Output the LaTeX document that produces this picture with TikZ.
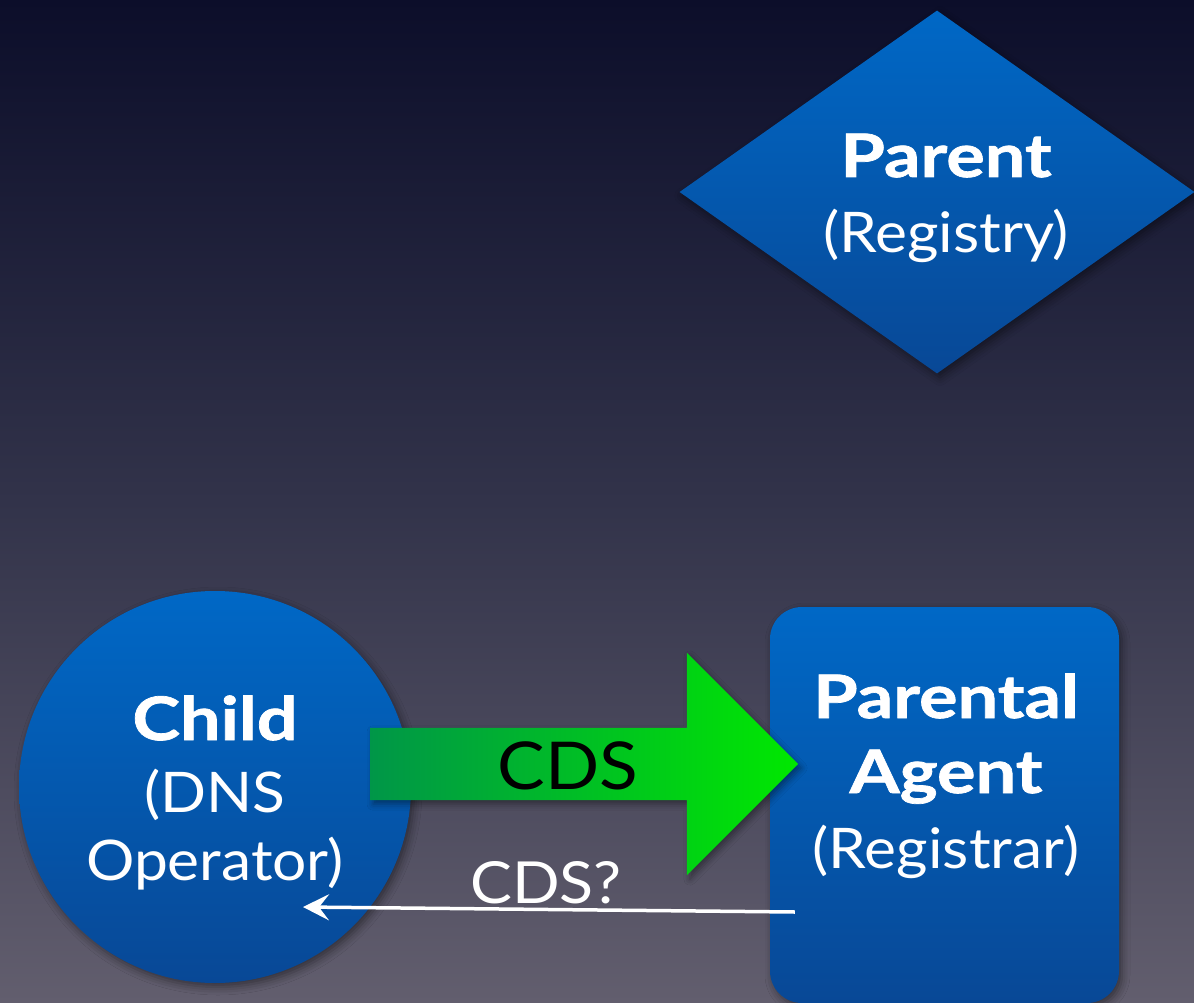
\documentclass[tikz,border=0pt]{standalone}
\usepackage{fontspec}
\setmainfont{Lato}
\newfontfamily\heavy[BoldFeatures={FakeStretch=1.2,FakeBold=1.2}]{Lato}
\newfontfamily\light[FakeStretch=1.08]{Lato}
\usetikzlibrary{shapes.geometric,shapes.arrows,shadows.blur,arrows.meta,calc}
\definecolor{bgtop}{RGB}{12,14,42}
\definecolor{bgmid}{RGB}{50,51,74}
\definecolor{bgbot}{RGB}{98,94,110}
\definecolor{bluetop}{RGB}{0,104,198}
\definecolor{bluebot}{RGB}{8,72,150}
\definecolor{gdark}{RGB}{0,150,72}
\definecolor{glight}{RGB}{0,232,0}
\tikzset{
  blueshape/.style={draw=none, top color=bluetop, bottom color=bluebot,
    blur shadow={shadow xshift=3pt, shadow yshift=-4pt, shadow blur radius=8pt, shadow opacity=45}},
  boldtxt/.style={text=white, font=\heavy\fontsize{60}{62}\selectfont\bfseries, anchor=base, inner sep=0pt},
  regtxt/.style={text=white, font=\light\fontsize{56}{60}\selectfont, anchor=base, inner sep=0pt},
}
\begin{document}
\begin{tikzpicture}[x=1pt,y=-1pt]
\shade[top color=bgtop, bottom color=bgbot, middle color=bgmid] (0,0) rectangle (1194,1003);
\useasboundingbox (0,0) rectangle (1194,1003);

% Parent diamond
\node[blueshape, diamond, aspect=1.42, minimum width=515pt, minimum height=363pt, inner sep=0pt] (parent) at (937,192) {};
\node[boldtxt] (parentA) at (946,177) {Parent};
\node[regtxt] (parentB) at (946,252) {(Registry)};

% Child circle
\node[blueshape, circle, minimum size=392pt, inner sep=0pt] (child) at (215,787) {};
\node[boldtxt] (childA) at (215,740) {Child};
\node[regtxt] (childB) at (215,812) {(DNS};
\node[regtxt] (childC) at (215,880) {Operator)};

% Parental agent rectangle
\node[blueshape, rectangle, rounded corners=32pt, minimum width=349pt, minimum height=396pt, inner sep=0pt] (agent) at (944.5,805) {};
\node[boldtxt] (agentA) at (946,718) {Parental};
\node[boldtxt] (agentB) at (946,793) {Agent};
\node[regtxt] (agentC) at (946,868) {(Registrar)};

% green CDS arrow
\node[single arrow, shape border rotate=0, single arrow head extend=75pt, single arrow head indent=0pt,
  minimum width=222pt, minimum height=428pt, inner sep=0pt, draw=none,
  left color=gdark, right color=glight,
  blur shadow={shadow xshift=3pt, shadow yshift=-4pt, shadow blur radius=6pt, shadow opacity=40}]
  (cdsarrow) at (566,764) {\rule{0pt}{72pt}};
\node[text=black, font=\light\fontsize{66}{70}\selectfont, anchor=base, inner sep=0pt] (cdslabel) at (568,789) {CDS};

% white query arrow
\coordinate (qstart) at ($(agent.west)+(25,107)$);
\coordinate (qend) at ($(child.center)+(88,120)$);
\draw[white, line width=3.5pt, -{Stealth[length=26pt,width=26pt,inset=10pt]}] (qstart) -- (qend);
\node[text=white, font=\light\fontsize{58}{60}\selectfont, anchor=base, inner sep=0pt] (qlabel) at (546,903) {CDS?};
\end{tikzpicture}
\end{document}
